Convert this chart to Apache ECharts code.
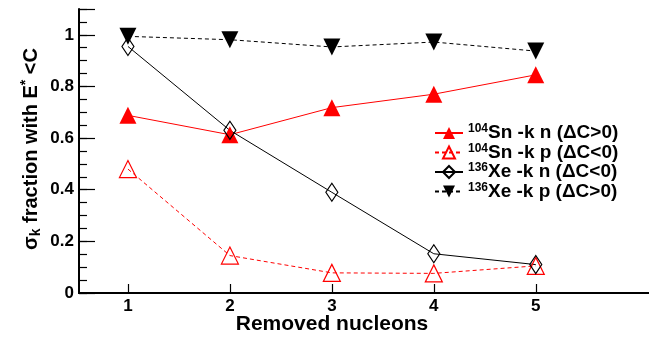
<!DOCTYPE html>
<html>
<head>
<meta charset="utf-8">
<script src="https://cdn.jsdelivr.net/npm/echarts@6/dist/echarts.min.js"></script>
<style>
  html, body { margin: 0; padding: 0; background: #fff; }
  #chart { width: 649px; height: 337px; }
</style>
</head>
<body>
<div id="chart"></div>
<script>
  // removed nucleons (x)
  var nucleons = [1, 2, 3, 4, 5];
  // cross section fraction with E* < C
  var snKn = [0.688, 0.613, 0.718, 0.770, 0.845];
  var snKp = [0.480, 0.145, 0.078, 0.076, 0.105];
  var xeKn = [0.955, 0.630, 0.390, 0.152, 0.110];
  var xeKp = [0.994, 0.981, 0.953, 0.972, 0.937];
  var yLabels = [0, 0.2, 0.4, 0.6, 0.8, 1];

  function pts(vals) {
    return nucleons.map(function (x, i) { return [x, vals[i]]; });
  }

  var font = 'Liberation Sans, Arial, sans-serif';
  var chart = echarts.init(document.getElementById('chart'));

  var option = {
    animation: false,
    grid: { left: 79, right: -3, top: 9, bottom: 44, outerBoundsMode: 'none' },
    graphic: [{
      type: 'text',
      x: 332, y: 324,
      style: {
        text: 'Removed nucleons', align: 'center', verticalAlign: 'middle',
        fontFamily: font, fontWeight: 'bold', fontSize: 21, fill: '#000'
      }
    }, {
      type: 'text',
      x: 31, y: 149,
      rotation: Math.PI / 2,
      style: {
        text: '{a|σ}{sub|k}{a| fraction with E}{sup|*}{a| <C}',
        align: 'center', verticalAlign: 'middle',
        rich: {
          a: { fontFamily: font, fontWeight: 'bold', fontSize: 20, fill: '#000' },
          sub: { fontFamily: font, fontWeight: 'bold', fontSize: 14, fill: '#000', verticalAlign: 'bottom', padding: [8, 0, 0, 0] },
          sup: { fontFamily: font, fontWeight: 'bold', fontSize: 14, fill: '#000', verticalAlign: 'top', padding: [0, 0, 10, 0] }
        }
      }
    }],
    legend: {
      orient: 'vertical',
      left: 429,
      top: 118,
      itemWidth: 28,
      itemHeight: 15,
      itemGap: 0,
      textStyle: {
        fontFamily: font, fontWeight: 'bold', fontSize: 19, color: '#000',
        rich: {
          sup: { fontFamily: font, fontWeight: 'bold', fontSize: 12, color: '#000', verticalAlign: 'top', padding: [0, 0, 8, 0] },
          b: { fontFamily: font, fontWeight: 'bold', fontSize: 19, lineHeight: 18, color: '#000' }
        }
      },
      formatter: function (name) {
        var p = name.split('|');
        return '{sup|' + p[0] + '}{b|' + p[1] + '}';
      },
      data: ['104|Sn -k n (ΔC>0)', '104|Sn -k p (ΔC<0)', '136|Xe -k n (ΔC<0)', '136|Xe -k p (ΔC>0)']
    },
    xAxis: [{
      type: 'value',
      min: 0.52,
      max: 6.14,
      splitLine: { show: false },
      axisLine: { show: true, lineStyle: { color: '#000', width: 2 } },
      axisTick: { show: true, inside: true, length: 9, customValues: nucleons, lineStyle: { color: '#000', width: 1.2 } },
      axisLabel: {
        customValues: nucleons, margin: 5,
        fontFamily: font, fontWeight: 'bold', fontSize: 17, color: '#000'
      }
    }, {
      // top frame line
      type: 'value',
      position: 'top',
      min: 0.52,
      max: 6.14,
      splitLine: { show: false },
      axisLine: { show: true, lineStyle: { color: '#000', width: 2 } },
      axisTick: { show: false },
      axisLabel: { show: false }
    }],
    yAxis: [{
      type: 'value',
      min: 0,
      max: 1.1,
      interval: 0.2,
      splitLine: { show: false },
      axisLine: { show: true, lineStyle: { color: '#000', width: 2 } },
      axisTick: { show: true, inside: true, length: 16, lineStyle: { color: '#000', width: 1.2 } },
      axisLabel: {
        customValues: yLabels, margin: 5,
        fontFamily: font, fontWeight: 'bold', fontSize: 17, color: '#000',
        formatter: function (v) { return String(+v.toFixed(1)); }
      }
    }, {
      // minor ticks every 0.05
      type: 'value',
      min: 0,
      max: 1.1,
      interval: 0.05,
      position: 'left',
      splitLine: { show: false },
      axisLine: { show: false },
      axisTick: { show: true, inside: true, length: 8, lineStyle: { color: '#000', width: 1.2 } },
      axisLabel: { show: false }
    }],
    series: [{
      name: '104|Sn -k n (ΔC>0)',
      type: 'line',
      data: pts(snKn),
      symbol: 'triangle',
      symbolSize: 17,
      lineStyle: { color: '#ff0000', width: 1 },
      itemStyle: { color: '#ff0000' }
    }, {
      name: '104|Sn -k p (ΔC<0)',
      type: 'line',
      data: pts(snKp),
      symbol: 'triangle',
      symbolSize: 17,
      lineStyle: { color: '#ff0000', width: 1, type: [4, 3] },
      itemStyle: { color: 'rgba(255,255,255,0)', borderColor: '#ff0000', borderWidth: 1.2 }
    }, {
      name: '136|Xe -k n (ΔC<0)',
      type: 'line',
      data: pts(xeKn),
      symbol: 'diamond',
      symbolSize: [12, 18],
      lineStyle: { color: '#000', width: 1 },
      itemStyle: { color: 'rgba(255,255,255,0)', borderColor: '#000', borderWidth: 1.2 }
    }, {
      name: '136|Xe -k p (ΔC>0)',
      type: 'line',
      data: pts(xeKp),
      symbol: 'triangle',
      symbolRotate: 180,
      symbolSize: 17,
      lineStyle: { color: '#000', width: 1, type: [4, 3] },
      itemStyle: { color: '#000' }
    }]
  };

  chart.setOption(option);
</script>
</body>
</html>
